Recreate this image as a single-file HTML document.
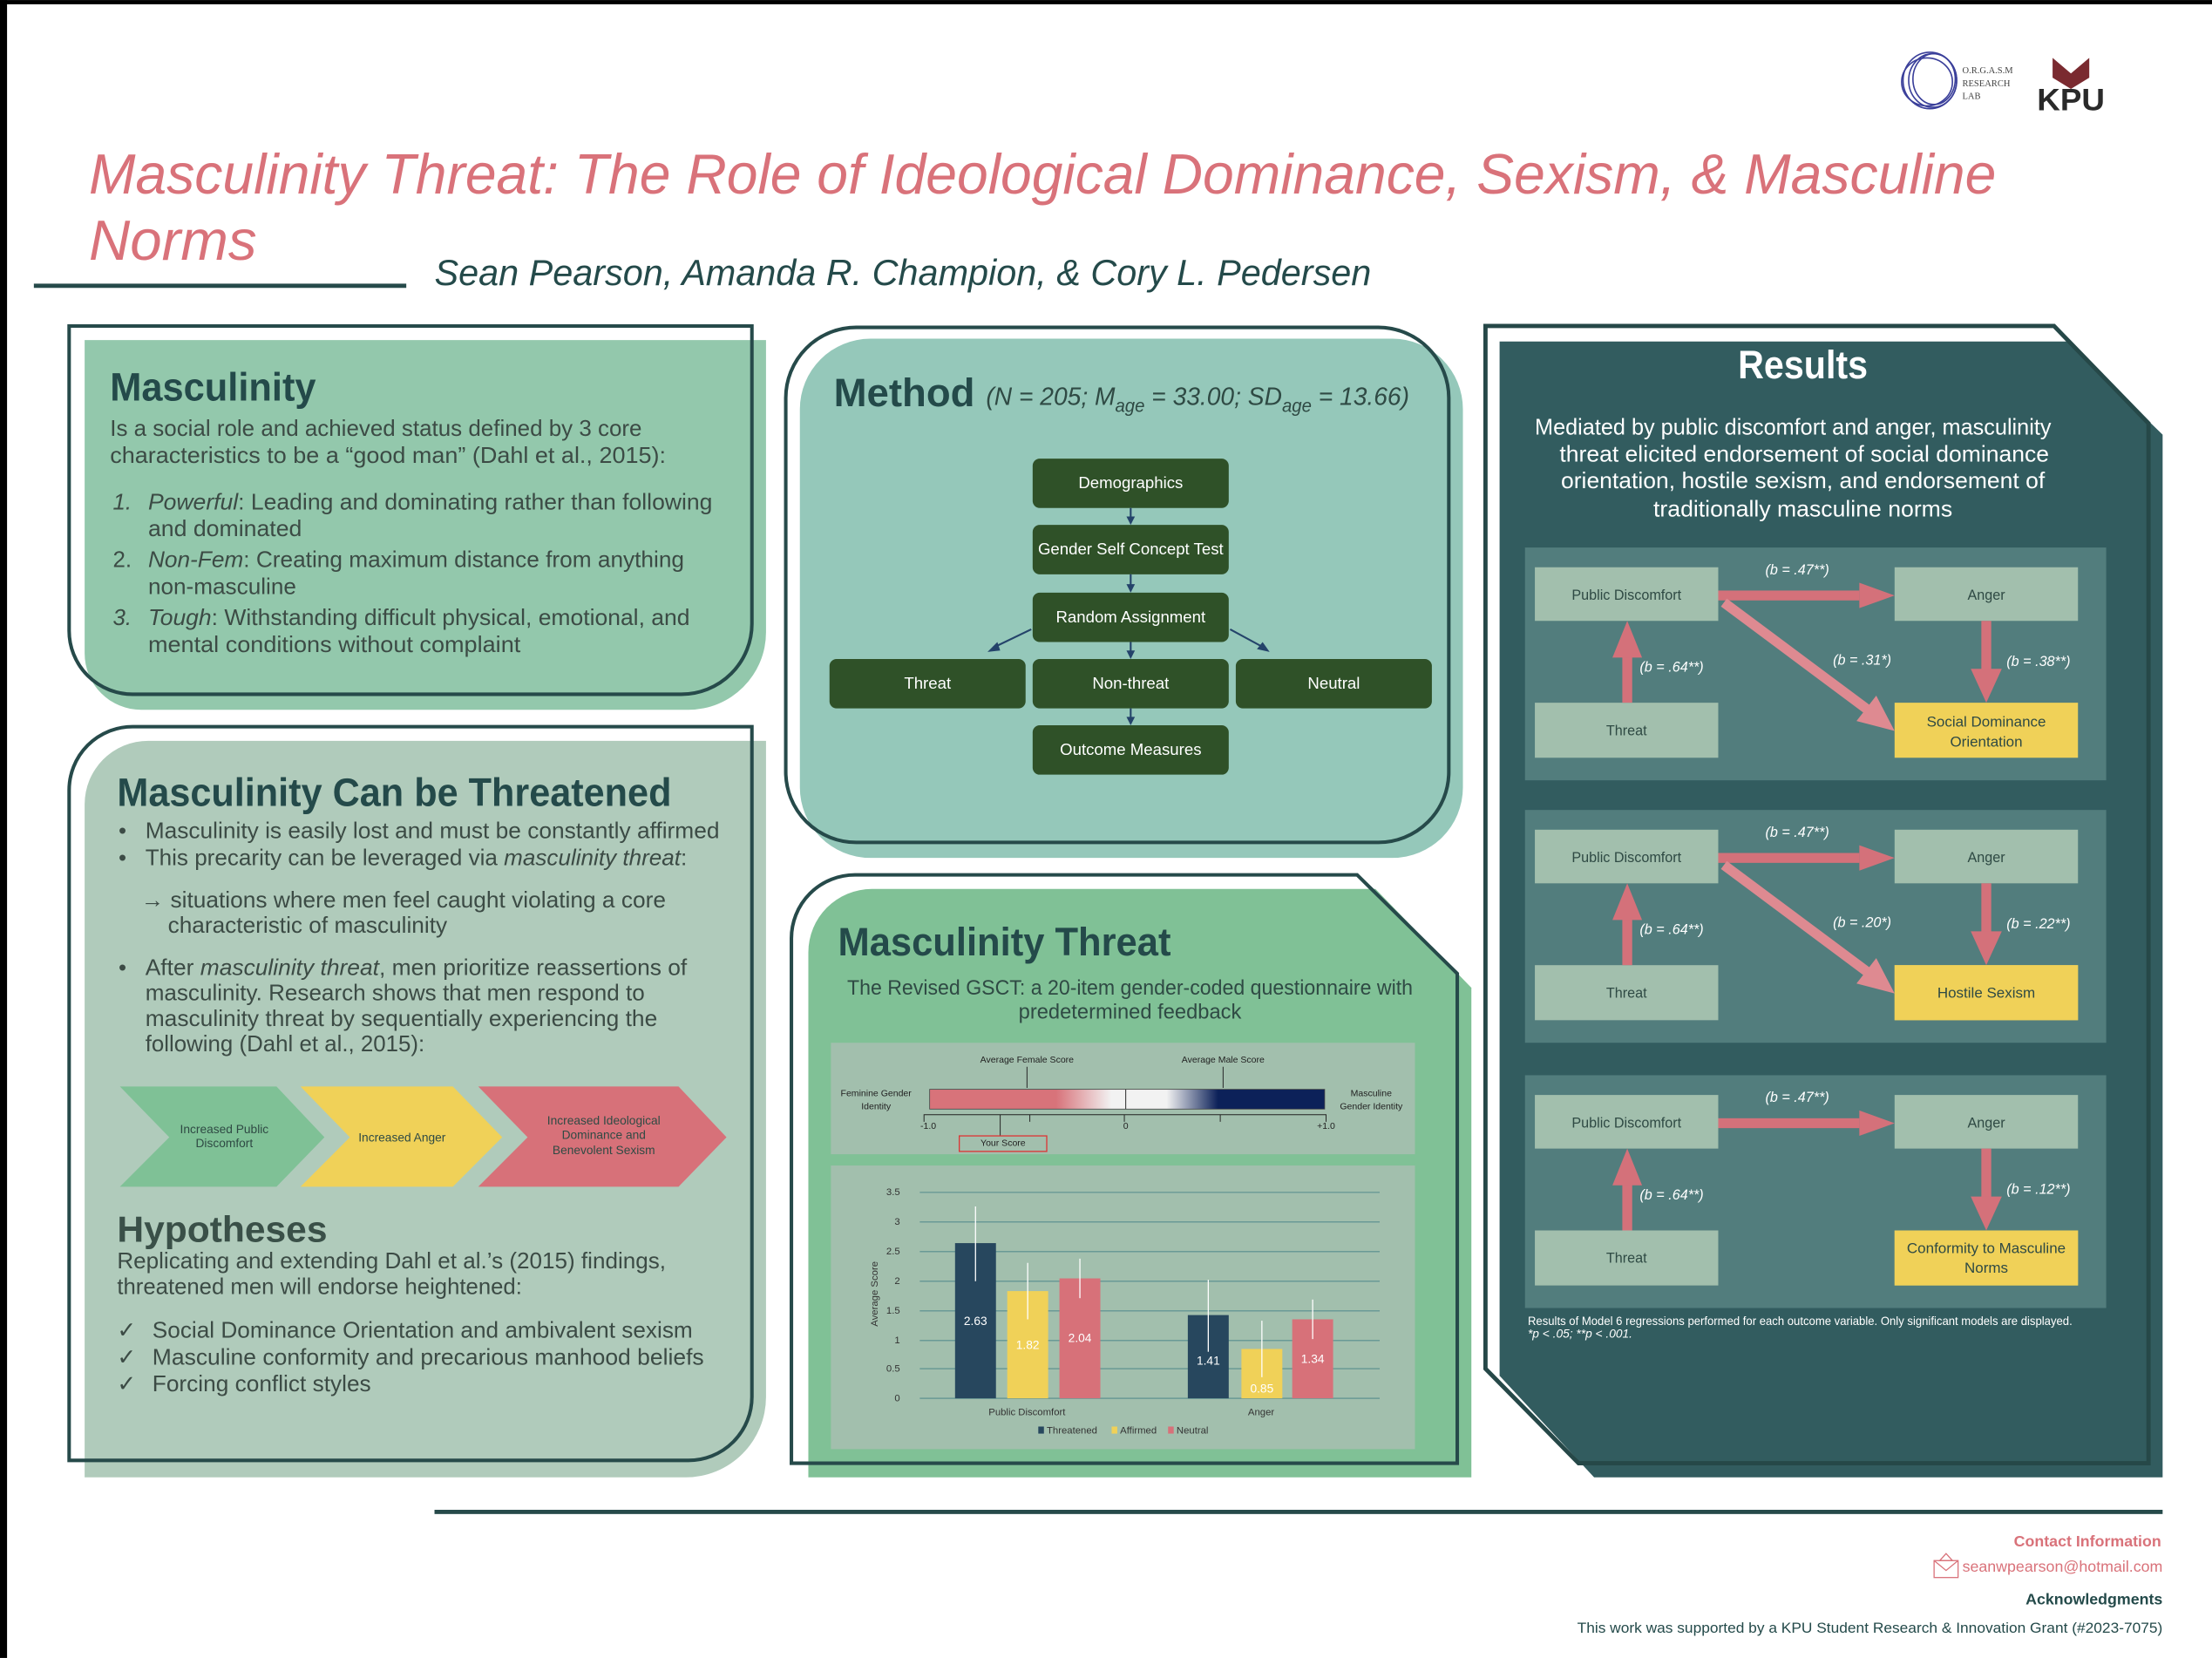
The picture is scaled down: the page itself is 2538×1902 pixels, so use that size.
<!DOCTYPE html>
<html><head><meta charset="utf-8"><style>
html,body{margin:0;padding:0;background:#fff;}
svg{display:block;}
</style></head><body>
<svg xmlns="http://www.w3.org/2000/svg" width="2538" height="1902" viewBox="0 0 1568 1175" font-family="'Liberation Sans', sans-serif">
<defs>
<linearGradient id="gs" x1="0" x2="1" y1="0" y2="0">
<stop offset="0" stop-color="#d8737a"/><stop offset="0.32" stop-color="#d8737a"/>
<stop offset="0.46" stop-color="#f2f2f2"/><stop offset="0.6" stop-color="#f2f2f2"/>
<stop offset="0.73" stop-color="#0c2159"/><stop offset="1" stop-color="#0c2159"/>
</linearGradient>
</defs>
<rect width="1568" height="1175" fill="#fff"/>
<rect x="0" y="0" width="1568" height="3" fill="#000"/>
<rect x="0" y="0" width="5" height="1175" fill="#000"/>

<!-- logos -->
<g fill="none" stroke="#3a3f9a" stroke-width="1">
<ellipse cx="1368" cy="57" rx="19" ry="20"/><ellipse cx="1370" cy="57" rx="17" ry="19"/><ellipse cx="1366" cy="58" rx="18" ry="17"/><ellipse cx="1371" cy="56" rx="15" ry="18"/>
</g>
<text x="1391" y="52" font-family="'Liberation Serif',serif" font-size="6.5" fill="#444">O.R.G.A.S.M</text>
<text x="1391" y="61" font-family="'Liberation Serif',serif" font-size="6.5" fill="#444">RESEARCH</text>
<text x="1391" y="70" font-family="'Liberation Serif',serif" font-size="6.5" fill="#444">LAB</text>
<polygon points="1455,41 1468,52 1481,41 1481,55 1468,63 1455,55" fill="#7a2a30"/>
<text x="1444" y="78" font-size="22" font-weight="bold" fill="#2a2a2a" textLength="48" lengthAdjust="spacingAndGlyphs">KPU</text>

<!-- title -->
<text x="63" y="137" font-size="40" font-style="italic" fill="#d9727a" textLength="1352" lengthAdjust="spacingAndGlyphs">Masculinity Threat: The Role of Ideological Dominance, Sexism, &amp; Masculine</text>
<text x="63" y="184" font-size="40" font-style="italic" fill="#d9727a" textLength="119" lengthAdjust="spacingAndGlyphs">Norms</text>
<rect x="24" y="201" width="264" height="3" fill="#264a4a"/>
<text x="308" y="202" font-size="26" font-style="italic" fill="#244a4a" textLength="664" lengthAdjust="spacingAndGlyphs">Sean Pearson, Amanda R. Champion, &amp; Cory L. Pedersen</text>

<!-- Panel 1 -->
<path d="M60,241 H543 V448 A55,55 0 0 1 488,503 H100 A40,40 0 0 1 60,463 Z" fill="#93c8ac"/>
<path d="M49,231 H533 V442 A50,50 0 0 1 483,492 H94 A45,45 0 0 1 49,447 Z" fill="none" stroke="#264a4a" stroke-width="2.5"/>
<text x="78" y="284" font-size="28" font-weight="bold" fill="#244a4a" textLength="146" lengthAdjust="spacingAndGlyphs">Masculinity</text>
<g font-size="16" fill="#3c4b45">
<text x="78" y="309" textLength="377" lengthAdjust="spacingAndGlyphs">Is a social role and achieved status defined by 3 core</text>
<text x="78" y="328" textLength="394" lengthAdjust="spacingAndGlyphs">characteristics to be a “good man” (Dahl et al., 2015):</text>
<text x="80" y="361" font-style="italic">1.</text>
<text x="105" y="361" textLength="400" lengthAdjust="spacingAndGlyphs"><tspan font-style="italic">Powerful</tspan>: Leading and dominating rather than following</text>
<text x="105" y="380" textLength="109" lengthAdjust="spacingAndGlyphs">and dominated</text>
<text x="80" y="402">2.</text>
<text x="105" y="402" textLength="380" lengthAdjust="spacingAndGlyphs"><tspan font-style="italic">Non-Fem</tspan>: Creating maximum distance from anything</text>
<text x="105" y="421" textLength="105" lengthAdjust="spacingAndGlyphs">non-masculine</text>
<text x="80" y="443" font-style="italic">3.</text>
<text x="105" y="443" textLength="384" lengthAdjust="spacingAndGlyphs"><tspan font-style="italic">Tough</tspan>: Withstanding difficult physical, emotional, and</text>
<text x="105" y="462" textLength="264" lengthAdjust="spacingAndGlyphs">mental conditions without complaint</text>
</g>

<!-- Panel 2 -->
<path d="M105,525 H543 V990 A57,57 0 0 1 486,1047 H60 V570 A45,45 0 0 1 105,525 Z" fill="#b0cbbb"/>
<path d="M94,515 H533 V990 A45,45 0 0 1 488,1035 H49 V560 A45,45 0 0 1 94,515 Z" fill="none" stroke="#264a4a" stroke-width="2.5"/>
<text x="83" y="571" font-size="28" font-weight="bold" fill="#244a4a" textLength="393" lengthAdjust="spacingAndGlyphs">Masculinity Can be Threatened</text>
<g font-size="16" fill="#3c4b45">
<text x="84" y="594">•</text><text x="84" y="613">•</text><text x="84" y="691">•</text>
<text x="103" y="594" textLength="407" lengthAdjust="spacingAndGlyphs">Masculinity is easily lost and must be constantly affirmed</text>
<text x="103" y="613" textLength="384" lengthAdjust="spacingAndGlyphs">This precarity can be leveraged via <tspan font-style="italic">masculinity threat</tspan>:</text>
<text x="100" y="643" textLength="372" lengthAdjust="spacingAndGlyphs">→ situations where men feel caught violating a core</text>
<text x="119" y="661" textLength="198" lengthAdjust="spacingAndGlyphs">characteristic of masculinity</text>
<text x="103" y="691" textLength="384" lengthAdjust="spacingAndGlyphs">After <tspan font-style="italic">masculinity threat</tspan>, men prioritize reassertions of</text>
<text x="103" y="709" textLength="354" lengthAdjust="spacingAndGlyphs">masculinity. Research shows that men respond to</text>
<text x="103" y="727" textLength="363" lengthAdjust="spacingAndGlyphs">masculinity threat by sequentially experiencing the</text>
<text x="103" y="745" textLength="198" lengthAdjust="spacingAndGlyphs">following (Dahl et al., 2015):</text>
</g>
<polygon points="85,770 196,770 230,806 196,841 85,841 120,806" fill="#7fc196"/>
<polygon points="213,770 321,770 356,806 321,841 213,841 248,806" fill="#f0d158"/>
<polygon points="339,770 481,770 515,806 481,841 339,841 374,806" fill="#d77179"/>
<g font-size="8.5" fill="#2f4a44" text-anchor="middle">
<text x="159" y="803">Increased Public</text><text x="159" y="813">Discomfort</text>
<text x="285" y="809">Increased Anger</text>
<text x="428" y="797">Increased Ideological</text><text x="428" y="807">Dominance and</text><text x="428" y="818">Benevolent Sexism</text>
</g>
<text x="83" y="880" font-size="26" font-weight="bold" fill="#3a5048" textLength="149" lengthAdjust="spacingAndGlyphs">Hypotheses</text>
<g font-size="16" fill="#3c4b45">
<text x="83" y="899" textLength="389" lengthAdjust="spacingAndGlyphs">Replicating and extending Dahl et al.’s (2015) findings,</text>
<text x="83" y="917" textLength="287" lengthAdjust="spacingAndGlyphs">threatened men will endorse heightened:</text>
<text x="83" y="948">✓</text><text x="83" y="967">✓</text><text x="83" y="986">✓</text>
<text x="108" y="948" textLength="383" lengthAdjust="spacingAndGlyphs">Social Dominance Orientation and ambivalent sexism</text>
<text x="108" y="967" textLength="391" lengthAdjust="spacingAndGlyphs">Masculine conformity and precarious manhood beliefs</text>
<text x="108" y="986" textLength="155" lengthAdjust="spacingAndGlyphs">Forcing conflict styles</text>
</g>

<!-- Panel 3 Method -->
<rect x="567" y="240" width="470" height="368" rx="50" fill="#95c8ba"/>
<rect x="557" y="232" width="470" height="365" rx="50" fill="none" stroke="#264a4a" stroke-width="2.5"/>
<text x="591" y="288" font-size="28" font-weight="bold" fill="#244a4a" textLength="100" lengthAdjust="spacingAndGlyphs">Method</text>
<text x="699" y="287" font-size="18" font-style="italic" fill="#2f4a44" textLength="300" lengthAdjust="spacingAndGlyphs">(N = 205; M<tspan font-size="13" dy="5">age</tspan><tspan dy="-5"> = 33.00; SD</tspan><tspan font-size="13" dy="5">age</tspan><tspan dy="-5"> = 13.66)</tspan></text>
<g fill="#2f5128">
<rect x="732" y="325" width="139" height="35" rx="5"/>
<rect x="732" y="372" width="139" height="35" rx="5"/>
<rect x="732" y="420" width="139" height="35" rx="5"/>
<rect x="588" y="467" width="139" height="35" rx="5"/>
<rect x="732" y="467" width="139" height="35" rx="5"/>
<rect x="876" y="467" width="139" height="35" rx="5"/>
<rect x="732" y="514" width="139" height="35" rx="5"/>
</g>
<g font-size="11.5" fill="#fff" text-anchor="middle">
<text x="801.5" y="346">Demographics</text>
<text x="801.5" y="393">Gender Self Concept Test</text>
<text x="801.5" y="441">Random Assignment</text>
<text x="657.5" y="488">Threat</text>
<text x="801.5" y="488">Non-threat</text>
<text x="945.5" y="488">Neutral</text>
<text x="801.5" y="535">Outcome Measures</text>
</g>
<g stroke="#24436a" stroke-width="1.3" fill="#24436a">
<line x1="801.5" y1="360" x2="801.5" y2="369"/><polygon points="798.5,366 804.5,366 801.5,372" stroke="none"/>
<line x1="801.5" y1="407" x2="801.5" y2="417"/><polygon points="798.5,414 804.5,414 801.5,420" stroke="none"/>
<line x1="801.5" y1="455" x2="801.5" y2="464"/><polygon points="798.5,461 804.5,461 801.5,467" stroke="none"/>
<line x1="801.5" y1="502" x2="801.5" y2="511"/><polygon points="798.5,508 804.5,508 801.5,514" stroke="none"/>
<line x1="731" y1="446" x2="704" y2="459"/><polygon points="700,462 707,455 709,461" stroke="none"/>
<line x1="872" y1="446" x2="896" y2="459"/><polygon points="900,462 891,460 895,455" stroke="none"/>
</g>

<!-- Panel 4 Masculinity Threat -->
<path d="M618,630 H975 L1043,700 V1047 H573 V675 A45,45 0 0 1 618,630 Z" fill="#80c196"/>
<path d="M606,620 H962 L1033,690 V1037 H561 V665 A45,45 0 0 1 606,620 Z" fill="none" stroke="#264a4a" stroke-width="2.5"/>
<text x="594" y="677" font-size="28" font-weight="bold" fill="#244a4a" textLength="236" lengthAdjust="spacingAndGlyphs">Masculinity Threat</text>
<text x="801" y="705" font-size="15" fill="#2f4a44" text-anchor="middle" textLength="401" lengthAdjust="spacingAndGlyphs">The Revised GSCT: a 20-item gender-coded questionnaire with</text>
<text x="801" y="722" font-size="15" fill="#2f4a44" text-anchor="middle" textLength="158" lengthAdjust="spacingAndGlyphs">predetermined feedback</text>
<rect x="589" y="739" width="414" height="79" fill="#a2bfad"/>
<g font-size="6.5" fill="#222" text-anchor="middle">
<text x="728" y="753">Average Female Score</text>
<text x="867" y="753">Average Male Score</text>
<text x="621" y="777">Feminine Gender</text><text x="621" y="786">Identity</text>
<text x="972" y="777">Masculine</text><text x="972" y="786">Gender Identity</text>
<text x="658" y="800">-1.0</text><text x="798" y="800">0</text><text x="940" y="800">+1.0</text>
<text x="711" y="812">Your Score</text>
</g>
<rect x="659" y="772" width="280" height="14" fill="url(#gs)" stroke="#444" stroke-width="0.5"/>
<line x1="798" y1="772" x2="798" y2="786" stroke="#222" stroke-width="0.6"/>
<g stroke="#222" stroke-width="0.6" fill="none">
<line x1="728" y1="756" x2="728" y2="771"/><line x1="867" y1="756" x2="867" y2="771"/>
<polyline points="655,795 655,790 940,790 940,795"/>
<line x1="730" y1="790" x2="730" y2="795"/><line x1="797" y1="790" x2="797" y2="795"/><line x1="865" y1="790" x2="865" y2="795"/>
<line x1="709" y1="790" x2="709" y2="805"/>
</g>
<rect x="680" y="805" width="62" height="11" fill="none" stroke="#d33" stroke-width="0.8"/>

<rect x="589" y="826" width="414" height="201" fill="#a2bfad"/>
<g stroke="#6a9a96" stroke-width="0.9">
<line x1="652" y1="845" x2="978" y2="845"/><line x1="652" y1="866" x2="978" y2="866"/><line x1="652" y1="887" x2="978" y2="887"/><line x1="652" y1="908" x2="978" y2="908"/><line x1="652" y1="929" x2="978" y2="929"/><line x1="652" y1="950" x2="978" y2="950"/><line x1="652" y1="970" x2="978" y2="970"/><line x1="652" y1="991" x2="978" y2="991"/>
</g>
<g font-size="7" fill="#333" text-anchor="end">
<text x="638" y="847">3.5</text><text x="638" y="868">3</text><text x="638" y="889">2.5</text><text x="638" y="910">2</text><text x="638" y="931">1.5</text><text x="638" y="952">1</text><text x="638" y="972">0.5</text><text x="638" y="993">0</text>
</g>
<text x="622" y="917" font-size="7" fill="#333" text-anchor="middle" transform="rotate(-90 622 917)">Average Score</text>
<rect x="677" y="881" width="29" height="110" fill="#27475e"/>
<rect x="714" y="915" width="29" height="76" fill="#f0d158"/>
<rect x="751" y="906" width="29" height="85" fill="#d77179"/>
<rect x="842" y="932" width="29" height="59" fill="#27475e"/>
<rect x="880" y="956" width="29" height="35" fill="#f0d158"/>
<rect x="916" y="935" width="29" height="56" fill="#d77179"/>
<g stroke="#fff" stroke-width="0.8">
<line x1="691.5" y1="855" x2="691.5" y2="908"/><line x1="728.5" y1="895" x2="728.5" y2="935"/><line x1="765.5" y1="892" x2="765.5" y2="920"/>
<line x1="856.5" y1="907" x2="856.5" y2="958"/><line x1="894.5" y1="936" x2="894.5" y2="976"/><line x1="930.5" y1="921" x2="930.5" y2="949"/>
</g>
<g font-size="8.5" fill="#fff" text-anchor="middle">
<text x="691.5" y="939">2.63</text><text x="728.5" y="956">1.82</text><text x="765.5" y="951">2.04</text>
<text x="856.5" y="967">1.41</text><text x="894.5" y="987">0.85</text><text x="930.5" y="966">1.34</text>
</g>
<g font-size="7" fill="#333" text-anchor="middle">
<text x="728" y="1003">Public Discomfort</text><text x="894" y="1003">Anger</text>
</g>
<rect x="736" y="1011" width="4" height="5" fill="#27475e"/><text x="742" y="1016" font-size="7" fill="#333">Threatened</text>
<rect x="788" y="1011" width="4" height="5" fill="#f0d158"/><text x="794" y="1016" font-size="7" fill="#333">Affirmed</text>
<rect x="828" y="1011" width="4" height="5" fill="#d77179"/><text x="834" y="1016" font-size="7" fill="#333">Neutral</text>

<!-- Panel 5 Results -->
<path d="M1063,242 H1465 L1533,308 V1047 H1130 L1063,975 Z" fill="#325c5f"/>
<path d="M1053,231 H1456 L1523,300 V1037 H1119 L1053,970 Z" fill="none" stroke="#264848" stroke-width="3"/>
<text x="1278" y="268" font-size="28" font-weight="bold" fill="#fff" text-anchor="middle" textLength="92" lengthAdjust="spacingAndGlyphs">Results</text>
<g font-size="16" fill="#fff" text-anchor="middle">
<text x="1271" y="308" textLength="366" lengthAdjust="spacingAndGlyphs">Mediated by public discomfort and anger, masculinity</text>
<text x="1279" y="327" textLength="347" lengthAdjust="spacingAndGlyphs">threat elicited endorsement of social dominance</text>
<text x="1278" y="346" textLength="343" lengthAdjust="spacingAndGlyphs">orientation, hostile sexism, and endorsement of</text>
<text x="1278" y="366" textLength="212" lengthAdjust="spacingAndGlyphs">traditionally masculine norms</text>
</g>

<g id="m1">
<rect x="1081" y="388" width="412" height="165" fill="#527d7d"/>
<rect x="1088" y="402" width="130" height="38" fill="#a2bfad"/>
<rect x="1343" y="402" width="130" height="38" fill="#a2bfad"/>
<rect x="1088" y="498" width="130" height="39" fill="#a2bfad"/>
<rect x="1343" y="498" width="130" height="39" fill="#f0d158"/>
<rect x="1218" y="418.5" width="100" height="7" fill="#d4717a"/><polygon points="1318,413 1343,422 1318,431" fill="#d4717a"/>
<rect x="1150" y="465" width="7" height="33" fill="#d4717a"/><polygon points="1143,466 1153.5,440 1164,466" fill="#d4717a"/>
<rect x="1404.5" y="440" width="7" height="35" fill="#d4717a"/><polygon points="1397,474 1408,498 1419,474" fill="#d4717a"/>
<g font-size="10" fill="#2f4a44" text-anchor="middle">
<text x="1153" y="425">Public Discomfort</text><text x="1408" y="425">Anger</text><text x="1153" y="521">Threat</text>
</g>
<g font-size="10" font-style="italic" fill="#fff" text-anchor="middle">
<text x="1274" y="407">(b = .47**)</text><text x="1185" y="476">(b = .64**)</text>
</g>
</g>
<line x1="1222" y1="427" x2="1324" y2="503" stroke="#de8a91" stroke-width="7"/><polygon points="1343,518 1316,511 1330,493" fill="#de8a91"/>
<g font-size="10" font-style="italic" fill="#fff" text-anchor="middle">
<text x="1320" y="471">(b = .31*)</text><text x="1445" y="472">(b = .38**)</text>
</g>
<g font-size="10.5" fill="#2f4a44" text-anchor="middle">
<text x="1408" y="515">Social Dominance</text><text x="1408" y="529">Orientation</text>
</g>
<use href="#m1" transform="translate(0,186)"/>
<line x1="1222" y1="613" x2="1324" y2="689" stroke="#de8a91" stroke-width="7"/><polygon points="1343,704 1316,697 1330,679" fill="#de8a91"/>
<rect x="1343" y="684" width="130" height="39" fill="#f0d158"/>
<text x="1408" y="707" font-size="10.5" fill="#2f4a44" text-anchor="middle">Hostile Sexism</text>
<g font-size="10" font-style="italic" fill="#fff" text-anchor="middle">
<text x="1320" y="657">(b = .20*)</text><text x="1445" y="658">(b = .22**)</text>
</g>
<use href="#m1" transform="translate(0,374)"/>
<rect x="1343" y="872" width="130" height="39" fill="#f0d158"/>
<g font-size="10.5" fill="#2f4a44" text-anchor="middle">
<text x="1408" y="888">Conformity to Masculine</text><text x="1408" y="902">Norms</text>
</g>
<text x="1445" y="846" font-size="10" font-style="italic" fill="#fff" text-anchor="middle">(b = .12**)</text>
<text x="1083" y="939" font-size="8.5" fill="#fff" textLength="386" lengthAdjust="spacingAndGlyphs">Results of Model 6 regressions performed for each outcome variable. Only significant models are displayed.</text>
<text x="1083" y="948" font-size="8.5" font-style="italic" fill="#fff">*p &lt; .05; **p &lt; .001.</text>

<!-- footer -->
<rect x="308" y="1070" width="1225" height="3" fill="#264a4a"/>
<text x="1532" y="1096" font-size="11" font-weight="bold" fill="#d9727a" text-anchor="end">Contact Information</text>
<g fill="none" stroke="#d9727a" stroke-width="0.8">
<rect x="1371" y="1106" width="17" height="12"/><polyline points="1371,1106 1379.5,1113 1388,1106"/><polygon points="1379.5,1101 1375,1106 1384,1106"/>
</g>
<text x="1533" y="1114" font-size="11" fill="#d9727a" text-anchor="end">seanwpearson@hotmail.com</text>
<text x="1533" y="1137" font-size="11" font-weight="bold" fill="#244a4a" text-anchor="end">Acknowledgments</text>
<text x="1533" y="1157" font-size="10.5" fill="#244a4a" text-anchor="end" textLength="415" lengthAdjust="spacingAndGlyphs">This work was supported by a KPU Student Research &amp; Innovation Grant (#2023-7075)</text>
</svg>
</body></html>
